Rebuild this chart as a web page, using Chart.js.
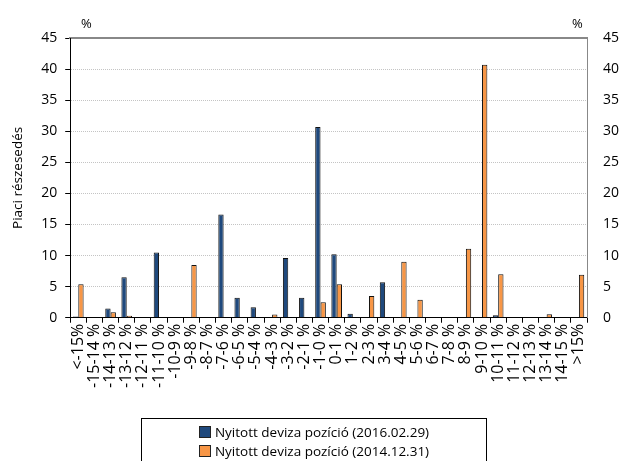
<!DOCTYPE html>
<html><head><meta charset="utf-8">
<script src="https://cdn.jsdelivr.net/npm/chart.js@4.4.1/dist/chart.umd.min.js"></script>
<style>
html,body{margin:0;padding:0;background:#fff;}
#wrap{position:relative;width:625px;height:461px;overflow:hidden;}
canvas{position:absolute;left:0;top:0;}
.pct{position:absolute;top:14px;font:13px "Open Sans",sans-serif;color:#000;}
#legend{position:absolute;left:141px;top:418px;width:346px;height:60px;border:1px solid #000;box-sizing:border-box;font:13.5px "Open Sans",sans-serif;color:#000;text-align:center;padding-top:4px;}
#legend div{line-height:19px;}
#legend span.sw{display:inline-block;width:10px;height:10px;border:1px solid #222;margin-right:4px;vertical-align:-1px;}
</style></head>
<body><div id="wrap"><canvas id="c" width="625" height="461"></canvas>
<div class="pct" style="left:81px">%</div><div class="pct" style="left:572px">%</div>
<div id="legend"><div><span class="sw" style="background:#1F497D"></span>Nyitott deviza pozíció (2016.02.29)</div><div><span class="sw" style="background:#F79646"></span>Nyitott deviza pozíció (2014.12.31)</div></div>
</div>
<script>
const categories = ["<-15%","-15-14 %","-14-13 %","-13-12 %","-12-11 %","-11-10 %","-10-9 %","-9-8 %","-8-7 %","-7-6 %","-6-5 %","-5-4 %","-4-3 %","-3-2 %","-2-1 %","-1-0 %","0-1 %","1-2 %","2-3 %","3-4 %","4-5 %","5-6 %","6-7 %","7-8 %","8-9 %","9-10 %","10-11 %","11-12 %","12-13 %","13-14 %","14-15 %",">15%"];
const series2016 = [0.2,0,1.5,6.5,0,10.5,0,0,0,16.6,3.2,1.7,0,9.6,3.2,30.7,10.2,0.65,0,5.7,0,0,0,0,0,0,0.4,0,0,0,0,0];
const series2014 = [5.4,0,0.9,0.3,0,0,0,8.5,0,0,0,0,0.5,0.1,0.1,2.5,5.4,0.1,3.5,0,9.0,2.9,0,0,11.1,40.7,7.0,0,0,0.55,0,6.9];
const yTicks = [0,5,10,15,20,25,30,35,40,45];
const label2016 = "Nyitott deviza pozíció (2016.02.29)";
const label2014 = "Nyitott deviza pozíció (2014.12.31)";
const FONT = "'Liberation Sans Narrow', 'Open Sans', sans-serif";
const FONT2 = "'Open Sans', sans-serif";
new Chart(document.getElementById('c'), {
  type: 'bar',
  data: {
    labels: categories,
    datasets: [
      {label: label2016, data: series2016, backgroundColor: '#1F497D', borderColor: '#111', borderWidth: 1, categoryPercentage: 0.66, barPercentage: 1},
      {label: label2014, data: series2014, backgroundColor: '#F79646', borderColor: '#111', borderWidth: 1, categoryPercentage: 0.66, barPercentage: 1}
    ]
  },
  options: {
    responsive: false, animation: false,
    layout: {padding: {top: 38, bottom: 72, left: 10, right: 0}},
    plugins: {legend: {display: false}, tooltip: {enabled: false}},
    scales: {
      x: {
        grid: {display: true, drawOnChartArea: false, drawTicks: true, tickLength: 5, color: '#000', offset: true},
        border: {color: '#000', width: 1},
        ticks: {color: '#000', font: {family: FONT, size: 16}, maxRotation: 90, minRotation: 90, autoSkip: false, padding: 1}
      },
      xTop: {
        position: 'top', type: 'category', labels: categories,
        grid: {drawOnChartArea: false, drawTicks: false},
        border: {color: '#888', width: 2},
        ticks: {display: false}
      },
      y: {
        position: 'left', min: 0, max: 45,
        afterBuildTicks: s => { s.ticks = yTicks.map(v => ({value: v})); },
        title: {display: true, text: 'Piaci részesedés', color: '#000', font: {family: FONT2, size: 13.5}, padding: {top: 0, bottom: 7}},
        grid: {color: ctx => ctx.tick && (ctx.tick.value === 45 || ctx.tick.value === 0) ? 'rgba(0,0,0,0)' : '#c4c4c4', tickColor: '#000', tickLength: 5, lineWidth: 1, tickBorderDash: []},
        border: {color: '#000', width: 1, dash: [1, 1]},
        ticks: {color: '#000', font: {family: FONT2, size: 14}, padding: 8}
      },
      y2: {
        position: 'right', min: 0, max: 45,
        afterBuildTicks: s => { s.ticks = yTicks.map(v => ({value: v})); },
        afterFit: s => { s.width = 38; },
        grid: {drawOnChartArea: false, drawTicks: false},
        border: {color: '#888', width: 1},
        ticks: {color: '#000', font: {family: FONT2, size: 14}, padding: 16}
      }
    }
  }
});
</script>
</body></html>
